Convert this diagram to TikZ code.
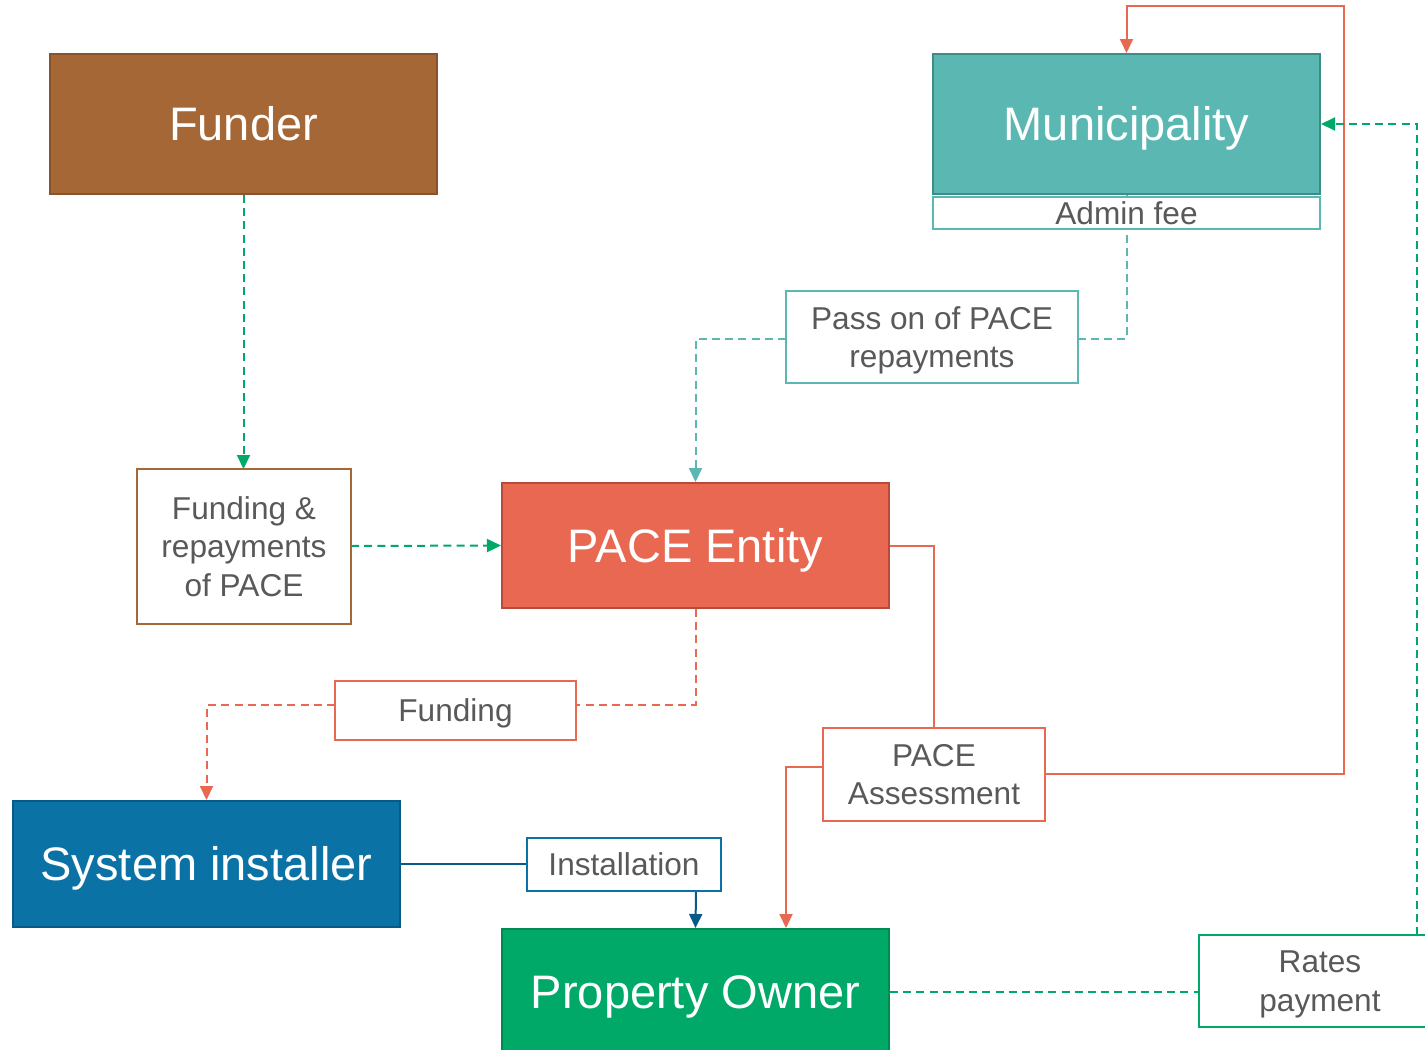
\documentclass[tikz,border=0pt]{standalone}
\usepackage{fontspec}
\setmainfont{Liberation Sans}
\usepackage{tikz}
\usetikzlibrary{arrows.meta}

\definecolor{funderbrown}{HTML}{A66737}
\definecolor{funderedge}{HTML}{8A522C}
\definecolor{muniteal}{HTML}{5BB7B2}
\definecolor{muniedge}{HTML}{3F8C87}
\definecolor{pacered}{HTML}{E96852}
\definecolor{paceedge}{HTML}{B74A3B}
\definecolor{installblue}{HTML}{0B72A6}
\definecolor{installedge}{HTML}{0A5A86}
\definecolor{ownergreen}{HTML}{00A968}
\definecolor{owneredge}{HTML}{008A52}
\definecolor{labelgray}{HTML}{595959}

\tikzset{
    actor/.style={draw, line width=1pt, inner sep=0pt, text=white,
        text height=16.8pt, text depth=0pt,
        minimum width=193.5pt, font=\fontsize{23.5}{28}\selectfont},
    tag/.style={draw, fill=white, line width=1pt, inner sep=0pt, align=center,
        text depth=-2.2pt,
        text=labelgray, font=\fontsize{15.8}{19.4}\selectfont},
    flow/.style={line width=1pt},
    cash/.style={flow, dash pattern=on 4pt off 2.6pt},
    tip/.style={-{Triangle[width=6.5pt,length=7pt]}}
}

\begin{document}
\begin{tikzpicture}[x=0.5pt, y=-0.5pt]
\clip (0,0) rectangle (1425,1050);

% Main parties
\node[actor, fill=funderbrown, draw=funderedge, minimum height=70pt] (funder) at (243.5,124) {Funder};
\node[actor, fill=muniteal, draw=muniedge, minimum height=70pt] (muni) at (1126.5,124) {Municipality};
\node[actor, fill=pacered, draw=paceedge, minimum height=62.5pt] (pace) at (695.5,545.5) {PACE Entity};
\node[actor, fill=installblue, draw=installedge, minimum height=63pt] (installer) at (206.5,864) {System installer};
\node[actor, fill=ownergreen, draw=owneredge, minimum height=62.5pt] (owner) at (695.5,991.5) {Property Owner};

% Helper points for the outer loops
\coordinate (toprail) at (1344,6);
\coordinate (rightrail) at (1417,0);
\coordinate (assessdrop) at (786,767);

% Municipality -> PACE Entity
\draw[cash, muniteal] (muni.south) -- (1126.5,339) -- (1078,339);
\draw[cash, muniteal, tip] (786,339) -| (pace.north);

% Funder -> PACE Entity
\draw[cash, ownergreen, tip] (funder.south) -- (243.5,469);
\draw[cash, ownergreen, tip] (351,546) -- (pace.west);

% PACE Entity -> installer
\draw[cash, pacered] (pace.south) |- (576,705);
\draw[cash, pacered, tip] (335,705) -| (installer.north);

% PACE assessment loop
\draw[flow, pacered] (pace.east) -| (934,728);
\draw[flow, pacered, tip] (1045,774) -| (toprail) -| (muni.north);
\draw[flow, pacered, tip] (823,767) -- (assessdrop) -- (assessdrop |- owner.north);

% Installation
\draw[flow, installedge] (installer.east) -- (527,864);
\draw[flow, installedge, tip] (696,891) -- (owner.north);

% Rates back to the municipality
\draw[cash, ownergreen] (owner.east |- 0,992) -- (1199,992);
\draw[cash, ownergreen, tip] (1417,935) |- (muni.east);

% Flow labels
\node[tag, draw=muniteal, minimum width=193.5pt, minimum height=16pt] (admin) at (1126.5,213) {Admin fee};
\node[tag, draw=muniteal, minimum width=146pt, minimum height=46pt] (pass) at (932,337) {Pass on of PACE\\repayments};
\node[tag, draw=funderbrown, minimum width=107pt, minimum height=77.5pt] (fundrep) at (244,546.5) {Funding \&\\repayments\\of PACE};
\node[tag, draw=pacered, minimum width=120.5pt, minimum height=29.5pt] (fund) at (455.5,710.5) {Funding};
\node[tag, draw=pacered, minimum width=111pt, minimum height=46.5pt] (assess) at (934,774.5) {PACE\\Assessment};
\node[tag, draw=installblue, minimum width=97pt, minimum height=26.5pt] (inst) at (624,864.5) {Installation};
\node[tag, draw=ownergreen, minimum width=121pt, minimum height=46pt] (rates) at (1320,981) {Rates\\payment};
\end{tikzpicture}
\end{document}
